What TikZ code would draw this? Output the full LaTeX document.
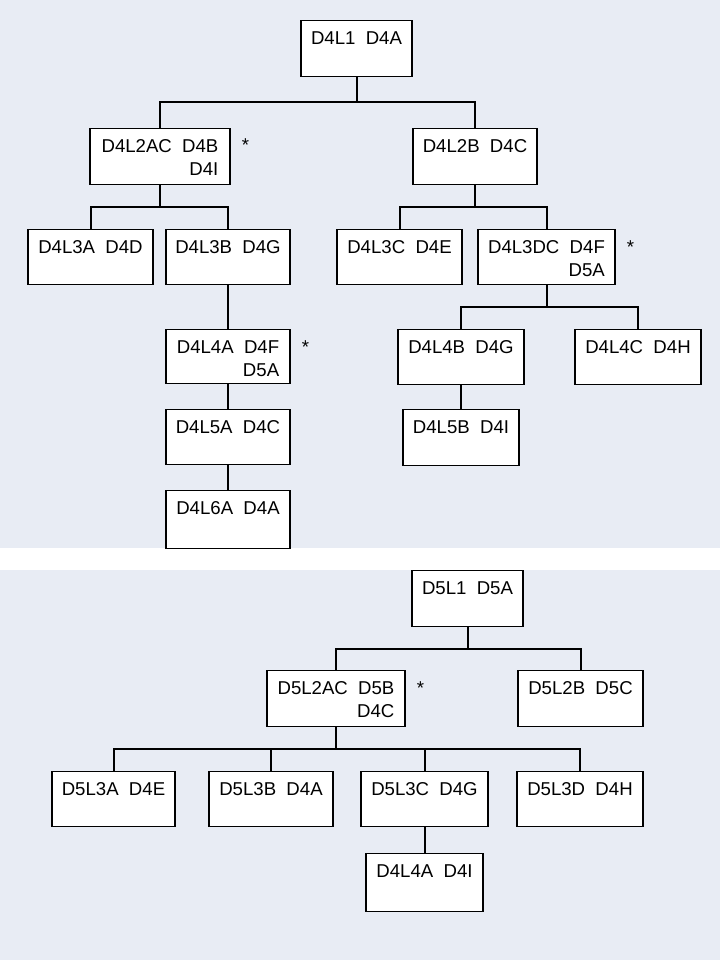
\documentclass[tikz,border=0pt]{standalone}
\usepackage{fontspec}
\setmainfont{Liberation Sans}
\usepackage{tikz}
\definecolor{panelgray}{RGB}{232,236,244}

\begin{document}
\begin{tikzpicture}[
    x=1pt, y=-1pt,
    box/.style={rectangle, draw, fill=white, line width=1.2pt, anchor=north, inner xsep=4pt, inner ysep=0pt, text height=24pt, text depth=31pt, align=right, font=\fontsize{18.6}{22.5}\selectfont},
    twoline/.style={text height=46.5pt, text depth=9.5pt},
    starred/.style={label={[anchor=base west, xshift=11pt, yshift=-24pt, inner sep=0pt, font=\fontsize{18.6}{22.5}\selectfont]north east:*}},
    link/.style={line width=2pt}
]
\useasboundingbox (0,0) rectangle (720,960);
\fill[white] (0,0) rectangle (720,960);
\fill[panelgray] (0,0) rectangle (720,548);
\fill[panelgray] (0,570) rectangle (720,960);

% upper tree
\node[box, minimum width=111pt, text depth=32pt] (d4l1) at (356.5,20) {D4L1\ \ D4A};
\node[box, twoline, minimum width=140pt, starred] (d4l2a) at (160,128) {D4L2AC\ \ D4B\\D4I};
\node[box, minimum width=124pt, text depth=32pt] (d4l2b) at (475,128) {D4L2B\ \ D4C};
\node[box, minimum width=125pt] (d4l3a) at (90.5,229) {D4L3A\ \ D4D};
\node[box, minimum width=124pt] (d4l3b) at (228,229) {D4L3B\ \ D4G};
\node[box, minimum width=125pt] (d4l3c) at (399.5,229) {D4L3C\ \ D4E};
\node[box, twoline, minimum width=137pt, text depth=8.5pt, starred] (d4l3d) at (546.5,229) {D4L3DC\ \ D4F\\D5A};
\node[box, twoline, minimum width=124pt, text depth=7.5pt, starred] (d4l4a) at (228,329) {D4L4A\ \ D4F\\D5A};
\node[box, minimum width=126pt] (d4l4b) at (461,329) {D4L4B\ \ D4G};
\node[box, minimum width=126pt] (d4l4c) at (638,329) {D4L4C\ \ D4H};
\node[box, minimum width=124pt] (d4l5a) at (228,409) {D4L5A\ \ D4C};
\node[box, minimum width=116pt, text depth=32pt] (d4l5b) at (461,409) {D4L5B\ \ D4I};
\node[box, minimum width=124pt, text depth=34pt] (d4l6a) at (228,490) {D4L6A\ \ D4A};

\draw[link] (d4l1.south) -- ++(0,25) -| (d4l2a.north);
\draw[link] (d4l1.south) -- ++(0,25) -| (d4l2b.north);
\draw[link] (d4l2a.south) -- ++(0,22) -| (d4l3a.north);
\draw[link] (d4l2a.south) -- ++(0,22) -| (d4l3b.north);
\draw[link] (d4l2b.south) -- ++(0,22) -| (d4l3c.north);
\draw[link] (d4l2b.south) -- ++(0,22) -| (d4l3d.north);
\draw[link] (d4l3b.south) -- (d4l4a.north);
\draw[link] (d4l3d.south) -- ++(0,22) -| (d4l4b.north);
\draw[link] (d4l3d.south) -- ++(0,22) -| (d4l4c.north);
\draw[link] (d4l4a.south) -- (d4l5a.north);
\draw[link] (d4l4b.south) -- (d4l5b.north);
\draw[link] (d4l5a.south) -- (d4l6a.north);

% lower tree
\node[box, minimum width=111pt, text depth=32pt] (d5l1) at (467.5,570) {D5L1\ \ D5A};
\node[box, twoline, minimum width=138pt, starred] (d5l2a) at (336,670) {D5L2AC\ \ D5B\\D4C};
\node[box, minimum width=125pt, text depth=32pt] (d5l2b) at (580.5,670) {D5L2B\ \ D5C};
\node[box, minimum width=123pt] (d5l3a) at (113.5,771) {D5L3A\ \ D4E};
\node[box, minimum width=124pt] (d5l3b) at (271,771) {D5L3B\ \ D4A};
\node[box, minimum width=127pt] (d5l3c) at (424.5,771) {D5L3C\ \ D4G};
\node[box, minimum width=126pt] (d5l3d) at (580,771) {D5L3D\ \ D4H};
\node[box, minimum width=117pt, text depth=34pt] (d5l4a) at (424.5,853) {D4L4A\ \ D4I};

\draw[link] (d5l1.south) -- ++(0,22) -| (d5l2a.north);
\draw[link] (d5l1.south) -- ++(0,22) -| (d5l2b.north);
\draw[link] (d5l2a.south) -- ++(0,22) -| (d5l3a.north);
\draw[link] (d5l2a.south) -- ++(0,22) -| (d5l3b.north);
\draw[link] (d5l2a.south) -- ++(0,22) -| (d5l3c.north);
\draw[link] (d5l2a.south) -- ++(0,22) -| (d5l3d.north);
\draw[link] (d5l3c.south) -- (d5l4a.north);
\end{tikzpicture}
\end{document}
